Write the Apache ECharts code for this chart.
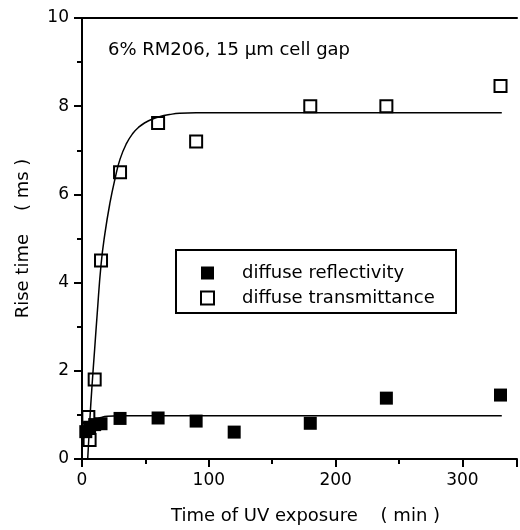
<!DOCTYPE html>
<html><head><meta charset="utf-8">
<script src="https://cdn.jsdelivr.net/npm/echarts@6/dist/echarts.min.js"></script>
<style>html,body{margin:0;padding:0;background:#fff}#c{width:520px;height:530px}</style>
</head><body><div id="c"></div>
<script>
// Tick values
const xTicks = [0, 100, 200, 300];
const yTicks = [0, 2, 4, 6, 8, 10];
// Diffuse reflectivity (filled squares)
const reflX = [3, 6, 10, 15, 30, 60, 90, 120, 180, 240, 330];
const reflY = [0.62, 0.72, 0.78, 0.8, 0.92, 0.93, 0.86, 0.61, 0.81, 1.38, 1.45];
// Diffuse transmittance (open squares)
const transX = [5, 6, 10, 15, 30, 60, 90, 180, 240, 330];
const transY = [0.95, 0.43, 1.8, 4.5, 6.5, 7.62, 7.2, 8.0, 8.0, 8.46];
// Fitted curves
const transFitX = [4.5, 6, 8, 10, 12, 15, 18, 22, 26, 30, 35, 40, 45, 50, 55, 61, 69, 77, 90, 331];
const transFitY = [0, 0.8, 1.7, 2.5, 3.3, 4.4, 5.1, 5.8, 6.35, 6.8, 7.15, 7.38, 7.53, 7.63, 7.7, 7.76, 7.81, 7.84, 7.85, 7.85];
const reflFitX = [1, 3, 6, 10, 15, 20, 30, 331];
const reflFitY = [0.45, 0.62, 0.78, 0.88, 0.94, 0.97, 0.98, 0.98];
const legendNames = ['diffuse reflectivity', 'diffuse transmittance'];
const annotation = '6% RM206, 15 \u00b5m cell gap';
const xTitle = 'Time of UV exposure    ( min )';
const yTitle = 'Rise time    ( ms )';

const zip = (a, b) => a.map((v, i) => [v, b[i]]);
const FONT = 'DejaVu Sans';
const chart = echarts.init(document.getElementById('c'), null, {renderer: 'canvas'});
const axisLine = {show: true, lineStyle: {color: '#000', width: 2}};
chart.setOption({
  animation: false,
  backgroundColor: '#fff',
  grid: {left: 82, top: 18, right: 0, bottom: 70, containLabel: false},
  xAxis: [{
    type: 'value', min: xTicks[0], max: 343, interval: xTicks[1] - xTicks[0],
    axisLine: axisLine,
    axisTick: {show: true, inside: false, length: 8, lineStyle: {color: '#000', width: 2}},
    minorTick: {show: true, splitNumber: 2, length: 5, lineStyle: {color: '#000', width: 2}},
    splitLine: {show: false},
    axisLabel: {color: '#000', fontFamily: FONT, fontSize: 17, margin: 13,
      formatter: v => (xTicks.indexOf(v) >= 0 ? String(v) : '')},
    name: xTitle, nameLocation: 'middle', nameGap: 48,
    nameTextStyle: {color: '#000', fontFamily: FONT, fontSize: 18, padding: [0, 0, 0, 12]}
  }, {
    type: 'value', position: 'top', min: xTicks[0], max: 343,
    axisLine: axisLine, axisTick: {show: false}, axisLabel: {show: false}, splitLine: {show: false}
  }],
  yAxis: {
    type: 'value', min: yTicks[0], max: yTicks[yTicks.length - 1], interval: yTicks[1] - yTicks[0],
    axisLine: axisLine,
    axisTick: {show: true, inside: false, length: 8, lineStyle: {color: '#000', width: 2}},
    minorTick: {show: true, splitNumber: 2, length: 5, lineStyle: {color: '#000', width: 2}},
    splitLine: {show: false},
    axisLabel: {color: '#000', fontFamily: FONT, fontSize: 17, margin: 13},
    name: yTitle, nameLocation: 'middle', nameGap: 50, nameRotate: 90,
    nameTextStyle: {color: '#000', fontFamily: FONT, fontSize: 18}
  },
  legend: {
    data: legendNames, orient: 'vertical', left: 200, top: 264, padding: 0,
    itemWidth: 13, itemHeight: 13, itemGap: 7,
    textStyle: {color: '#000', fontFamily: FONT, fontSize: 18, padding: [0, 0, 0, 23]}
  },
  graphic: [
    {type: 'rect', shape: {x: 176, y: 250, width: 280, height: 63},
     style: {fill: 'none', stroke: '#000', lineWidth: 2}, z: 10},
    {type: 'text', x: 108, y: 50,
     style: {text: annotation, fill: '#000', font: '18px "DejaVu Sans"', verticalAlign: 'middle'}}
  ],
  series: [
    {type: 'line', data: zip(transFitX, transFitY), showSymbol: false, symbol: 'none',
     smooth: 0.5, lineStyle: {color: '#000', width: 1.5}, silent: true},
    {type: 'line', data: zip(reflFitX, reflFitY), showSymbol: false, symbol: 'none',
     smooth: 0.5, lineStyle: {color: '#000', width: 1.5}, silent: true},
    {name: legendNames[1], type: 'scatter', symbol: 'rect', symbolSize: 12,
     data: zip(transX, transY),
     itemStyle: {color: '#fff', borderColor: '#000', borderWidth: 2, opacity: 1}},
    {name: legendNames[0], type: 'scatter', symbol: 'rect', symbolSize: 13,
     data: zip(reflX, reflY),
     itemStyle: {color: '#000', opacity: 1}}
  ]
});
</script></body></html>
